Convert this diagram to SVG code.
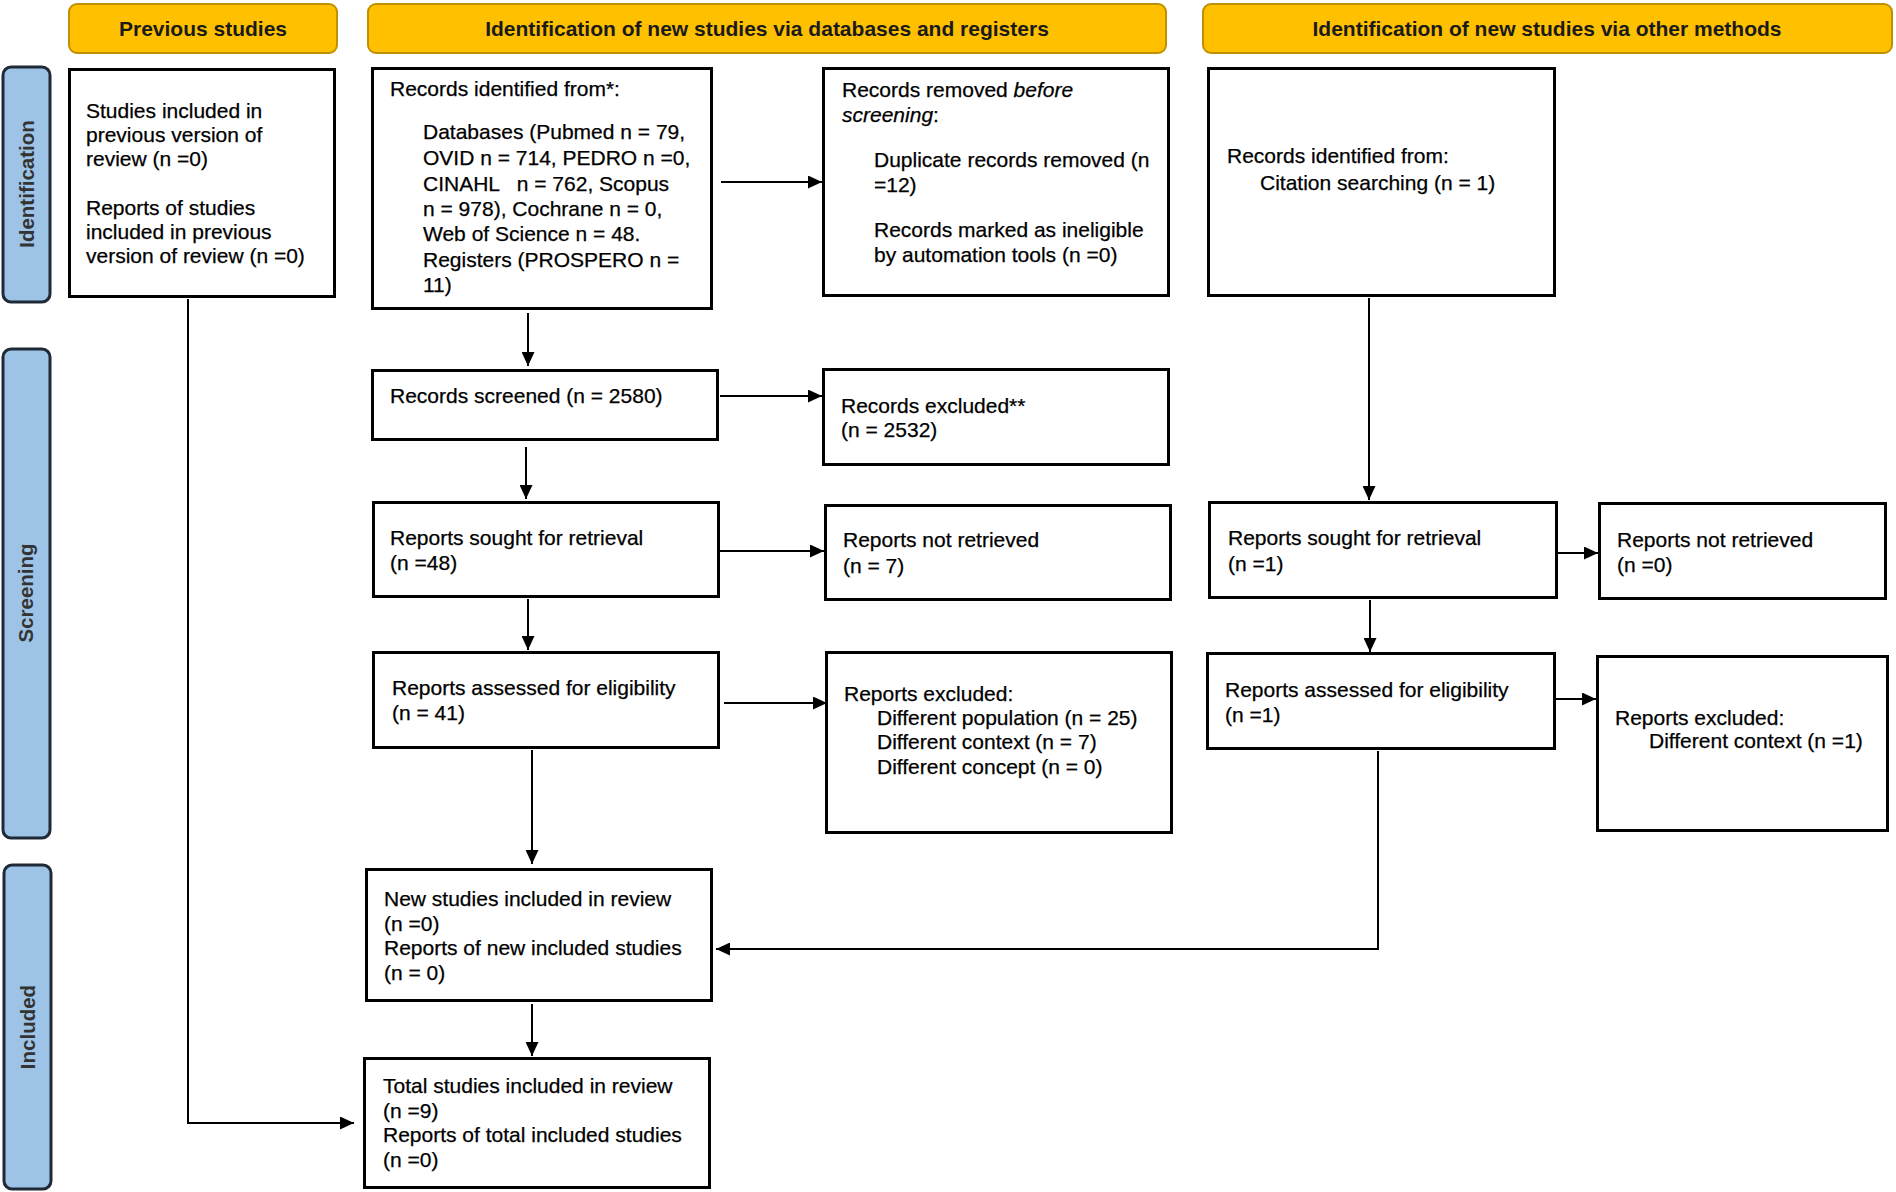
<svg xmlns="http://www.w3.org/2000/svg" width="1896" height="1192" viewBox="0 0 1896 1192">
<style>
.hdr{fill:#FFC000;stroke:#BF9000;stroke-width:2}
.hdrt{font-family:"Liberation Sans",Arial,sans-serif;font-size:21px;font-weight:bold;fill:#1a1a1a;text-anchor:middle}
.bar{fill:#9DC3E6;stroke:#1F2A36;stroke-width:3}
.bart{font-family:"Liberation Sans",Arial,sans-serif;font-size:20.5px;font-weight:bold;fill:#333;text-anchor:middle}
.box{fill:#fff;stroke:#000;stroke-width:3}
.t{font-family:"Liberation Sans",Arial,sans-serif;font-size:21px;fill:#000;stroke:#000;stroke-width:0.25}
.c{fill:none;stroke:#000;stroke-width:2}
</style>
<defs>
<marker id="ah" markerUnits="userSpaceOnUse" markerWidth="15" markerHeight="13" refX="14" refY="6.5" orient="auto">
<path d="M0,0 L14,6.5 L0,13 z" fill="#000"/>
</marker>
</defs>
<rect width="1896" height="1192" fill="#fff"/>

<g id="header-previous"><rect class="hdr" x="69" y="4" width="268" height="49" rx="8"/><text class="hdrt" x="203" y="36">Previous studies</text></g>
<g id="header-databases"><rect class="hdr" x="368" y="4" width="798" height="49" rx="8"/><text class="hdrt" x="767" y="36">Identification of new studies via databases and registers</text></g>
<g id="header-other"><rect class="hdr" x="1203" y="4" width="689" height="49" rx="8"/><text class="hdrt" x="1547" y="36">Identification of new studies via other methods</text></g>

<g id="bar-identification"><rect class="bar" x="3" y="67" width="47" height="235" rx="8"/><text class="bart" transform="translate(34,184) rotate(-90)">Identification</text></g>
<g id="bar-screening"><rect class="bar" x="3" y="349" width="47" height="489" rx="8"/><text class="bart" transform="translate(33,593) rotate(-90)">Screening</text></g>
<g id="bar-included"><rect class="bar" x="4" y="865" width="47" height="324" rx="8"/><text class="bart" transform="translate(35,1027) rotate(-90)">Included</text></g>

<g id="connectors">
<line class="c" x1="721" y1="182" x2="822" y2="182" marker-end="url(#ah)"/>
<line class="c" x1="528" y1="313" x2="528" y2="366" marker-end="url(#ah)"/>
<line class="c" x1="720" y1="396" x2="822" y2="396" marker-end="url(#ah)"/>
<line class="c" x1="526" y1="447" x2="526" y2="499" marker-end="url(#ah)"/>
<line class="c" x1="720" y1="551" x2="824" y2="551" marker-end="url(#ah)"/>
<line class="c" x1="528" y1="599" x2="528" y2="650" marker-end="url(#ah)"/>
<line class="c" x1="724" y1="703" x2="827" y2="703" marker-end="url(#ah)"/>
<line class="c" x1="532" y1="750" x2="532" y2="864" marker-end="url(#ah)"/>
<line class="c" x1="532" y1="1004" x2="532" y2="1056" marker-end="url(#ah)"/>
<line class="c" x1="1369" y1="298" x2="1369" y2="500" marker-end="url(#ah)"/>
<line class="c" x1="1370" y1="600" x2="1370" y2="652" marker-end="url(#ah)"/>
<line class="c" x1="1558" y1="553" x2="1598" y2="553" marker-end="url(#ah)"/>
<line class="c" x1="1556" y1="699" x2="1596" y2="699" marker-end="url(#ah)"/>
<polyline class="c" points="1378,751 1378,949 716,949" marker-end="url(#ah)"/>
<polyline class="c" points="188,299 188,1123 354,1123" marker-end="url(#ah)"/>
</g>

<g id="node-previous">
<rect class="box" x="69.5" y="69.5" width="265" height="227"/>
<text class="t" x="86" y="118">Studies included in</text>
<text class="t" x="86" y="142">previous version of</text>
<text class="t" x="86" y="166">review (n =0)</text>
<text class="t" x="86" y="215">Reports of studies</text>
<text class="t" x="86" y="239">included in previous</text>
<text class="t" x="86" y="263">version of review (n =0)</text>
</g>

<g id="node-identified">
<rect class="box" x="372.5" y="68.5" width="339" height="240"/>
<text class="t" x="390" y="96">Records identified from*:</text>
<text class="t" x="423" y="139">Databases (Pubmed n = 79,</text>
<text class="t" x="423" y="165">OVID n = 714, PEDRO n =0,</text>
<text class="t" x="423" y="191" xml:space="preserve">CINAHL   n = 762, Scopus</text>
<text class="t" x="423" y="216">n = 978), Cochrane n = 0,</text>
<text class="t" x="423" y="241">Web of Science n = 48.</text>
<text class="t" x="423" y="267">Registers (PROSPERO n =</text>
<text class="t" x="423" y="292">11)</text>
</g>

<g id="node-removed">
<rect class="box" x="823.5" y="68.5" width="345" height="227"/>
<text class="t" x="842" y="97">Records removed <tspan font-style="italic">before</tspan></text>
<text class="t" x="842" y="122"><tspan font-style="italic">screening</tspan>:</text>
<text class="t" x="874" y="167">Duplicate records removed (n</text>
<text class="t" x="874" y="192">=12)</text>
<text class="t" x="874" y="237">Records marked as ineligible</text>
<text class="t" x="874" y="262">by automation tools (n =0)</text>
</g>

<g id="node-citation">
<rect class="box" x="1208.5" y="68.5" width="346" height="227"/>
<text class="t" x="1227" y="163">Records identified from:</text>
<text class="t" x="1260" y="190">Citation searching (n = 1)</text>
</g>

<g id="node-screened">
<rect class="box" x="372.5" y="370.5" width="345" height="69"/>
<text class="t" x="390" y="403">Records screened (n = 2580)</text>
</g>

<g id="node-records-excluded">
<rect class="box" x="823.5" y="369.5" width="345" height="95"/>
<text class="t" x="841" y="413">Records excluded**</text>
<text class="t" x="841" y="437">(n = 2532)</text>
</g>

<g id="node-sought">
<rect class="box" x="373.5" y="502.5" width="345" height="94"/>
<text class="t" x="390" y="545">Reports sought for retrieval</text>
<text class="t" x="390" y="570">(n =48)</text>
</g>

<g id="node-not-retrieved">
<rect class="box" x="825.5" y="505.5" width="345" height="94"/>
<text class="t" x="843" y="547">Reports not retrieved</text>
<text class="t" x="843" y="573">(n = 7)</text>
</g>

<g id="node-sought-other">
<rect class="box" x="1209.5" y="502.5" width="347" height="95"/>
<text class="t" x="1228" y="545">Reports sought for retrieval</text>
<text class="t" x="1228" y="571">(n =1)</text>
</g>

<g id="node-not-retrieved-other">
<rect class="box" x="1599.5" y="503.5" width="286" height="95"/>
<text class="t" x="1617" y="547">Reports not retrieved</text>
<text class="t" x="1617" y="572">(n =0)</text>
</g>

<g id="node-assessed">
<rect class="box" x="373.5" y="652.5" width="345" height="95"/>
<text class="t" x="392" y="695">Reports assessed for eligibility</text>
<text class="t" x="392" y="720">(n = 41)</text>
</g>

<g id="node-reports-excluded">
<rect class="box" x="826.5" y="652.5" width="345" height="180"/>
<text class="t" x="844" y="701">Reports excluded:</text>
<text class="t" x="877" y="725">Different population (n = 25)</text>
<text class="t" x="877" y="749">Different context (n = 7)</text>
<text class="t" x="877" y="774">Different concept (n = 0)</text>
</g>

<g id="node-assessed-other">
<rect class="box" x="1207.5" y="653.5" width="347" height="95"/>
<text class="t" x="1225" y="697">Reports assessed for eligibility</text>
<text class="t" x="1225" y="722">(n =1)</text>
</g>

<g id="node-reports-excluded-other">
<rect class="box" x="1597.5" y="656.5" width="290" height="174"/>
<text class="t" x="1615" y="725">Reports excluded:</text>
<text class="t" x="1649" y="748">Different context (n =1)</text>
</g>

<g id="node-new-included">
<rect class="box" x="366.5" y="869.5" width="345" height="131"/>
<text class="t" x="384" y="906">New studies included in review</text>
<text class="t" x="384" y="931">(n =0)</text>
<text class="t" x="384" y="955">Reports of new included studies</text>
<text class="t" x="384" y="980">(n = 0)</text>
</g>

<g id="node-total">
<rect class="box" x="364.5" y="1058.5" width="345" height="129"/>
<text class="t" x="383" y="1093">Total studies included in review</text>
<text class="t" x="383" y="1118">(n =9)</text>
<text class="t" x="383" y="1142">Reports of total included studies</text>
<text class="t" x="383" y="1167">(n =0)</text>
</g>
</svg>
